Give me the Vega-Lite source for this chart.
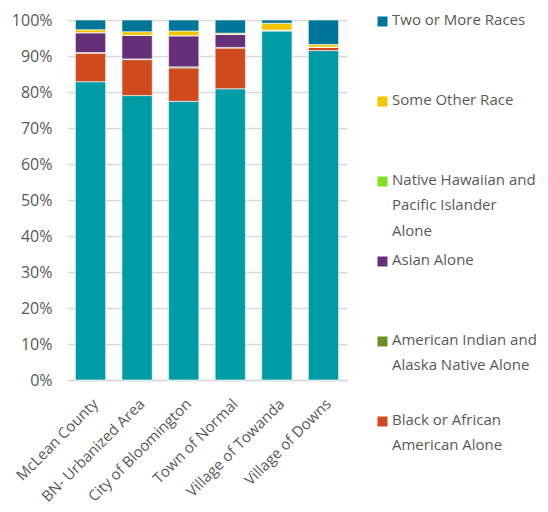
{
  "$schema": "https://vega.github.io/schema/vega-lite/v6.json",
  "autosize": {"type": "none"},
  "padding": {"left": 67, "top": 20, "right": 201, "bottom": 132},
  "width": 280,
  "height": 360,
  "background": "white",
  "config": {
    "view": {"stroke": null},
    "font": "Open Sans",
    "axis": {"labelFont": "Open Sans", "labelColor": "#595959", "labelFontSize": 15},
    "legend": {"labelFont": "Open Sans", "labelColor": "#595959", "labelFontSize": 15}
  },
  "data": {
    "values": [
      {"area": "McLean County", "race": "White Alone", "k": 1, "pct": 82.9},
      {"area": "McLean County", "race": "Black or African American Alone", "k": 2, "pct": 7.9},
      {"area": "McLean County", "race": "American Indian and Alaska Native Alone", "k": 3, "pct": 0.2},
      {"area": "McLean County", "race": "Asian Alone", "k": 4, "pct": 5.5},
      {"area": "McLean County", "race": "Native Hawaiian and Pacific Islander Alone", "k": 5, "pct": 0.05},
      {"area": "McLean County", "race": "Some Other Race", "k": 6, "pct": 0.8},
      {"area": "McLean County", "race": "Two or More Races", "k": 7, "pct": 2.7},
      {"area": "BN- Urbanized Area", "race": "White Alone", "k": 1, "pct": 79.0},
      {"area": "BN- Urbanized Area", "race": "Black or African American Alone", "k": 2, "pct": 10.0},
      {"area": "BN- Urbanized Area", "race": "American Indian and Alaska Native Alone", "k": 3, "pct": 0.2},
      {"area": "BN- Urbanized Area", "race": "Asian Alone", "k": 4, "pct": 6.5},
      {"area": "BN- Urbanized Area", "race": "Native Hawaiian and Pacific Islander Alone", "k": 5, "pct": 0.05},
      {"area": "BN- Urbanized Area", "race": "Some Other Race", "k": 6, "pct": 1.0},
      {"area": "BN- Urbanized Area", "race": "Two or More Races", "k": 7, "pct": 3.25},
      {"area": "City of Bloomington", "race": "White Alone", "k": 1, "pct": 77.4},
      {"area": "City of Bloomington", "race": "Black or African American Alone", "k": 2, "pct": 9.3},
      {"area": "City of Bloomington", "race": "American Indian and Alaska Native Alone", "k": 3, "pct": 0.3},
      {"area": "City of Bloomington", "race": "Asian Alone", "k": 4, "pct": 8.6},
      {"area": "City of Bloomington", "race": "Native Hawaiian and Pacific Islander Alone", "k": 5, "pct": 0.05},
      {"area": "City of Bloomington", "race": "Some Other Race", "k": 6, "pct": 1.3},
      {"area": "City of Bloomington", "race": "Two or More Races", "k": 7, "pct": 3.05},
      {"area": "Town of Normal", "race": "White Alone", "k": 1, "pct": 80.9},
      {"area": "Town of Normal", "race": "Black or African American Alone", "k": 2, "pct": 11.3},
      {"area": "Town of Normal", "race": "American Indian and Alaska Native Alone", "k": 3, "pct": 0.2},
      {"area": "Town of Normal", "race": "Asian Alone", "k": 4, "pct": 3.6},
      {"area": "Town of Normal", "race": "Native Hawaiian and Pacific Islander Alone", "k": 5, "pct": 0.05},
      {"area": "Town of Normal", "race": "Some Other Race", "k": 6, "pct": 0.3},
      {"area": "Town of Normal", "race": "Two or More Races", "k": 7, "pct": 3.65},
      {"area": "Village of Towanda", "race": "White Alone", "k": 1, "pct": 97.0},
      {"area": "Village of Towanda", "race": "Black or African American Alone", "k": 2, "pct": 0.0},
      {"area": "Village of Towanda", "race": "American Indian and Alaska Native Alone", "k": 3, "pct": 0.2},
      {"area": "Village of Towanda", "race": "Asian Alone", "k": 4, "pct": 0.0},
      {"area": "Village of Towanda", "race": "Native Hawaiian and Pacific Islander Alone", "k": 5, "pct": 0.0},
      {"area": "Village of Towanda", "race": "Some Other Race", "k": 6, "pct": 1.9},
      {"area": "Village of Towanda", "race": "Two or More Races", "k": 7, "pct": 0.9},
      {"area": "Village of Downs", "race": "White Alone", "k": 1, "pct": 91.5},
      {"area": "Village of Downs", "race": "Black or African American Alone", "k": 2, "pct": 1.0},
      {"area": "Village of Downs", "race": "American Indian and Alaska Native Alone", "k": 3, "pct": 0.0},
      {"area": "Village of Downs", "race": "Asian Alone", "k": 4, "pct": 0.0},
      {"area": "Village of Downs", "race": "Native Hawaiian and Pacific Islander Alone", "k": 5, "pct": 0.0},
      {"area": "Village of Downs", "race": "Some Other Race", "k": 6, "pct": 0.7},
      {"area": "Village of Downs", "race": "Two or More Races", "k": 7, "pct": 6.8}
    ]
  },
  "mark": {"type": "bar", "stroke": "white", "strokeWidth": 0.6},
  "encoding": {
    "x": {
      "field": "area",
      "type": "nominal",
      "sort": null,
      "title": null,
      "scale": {"paddingInner": 0.35, "paddingOuter": 0.18},
      "axis": {"labelAngle": -45, "ticks": false, "domainColor": "#d9d9d9", "domainWidth": 1.5, "labelPadding": 16}
    },
    "y": {
      "field": "pct",
      "type": "quantitative",
      "stack": "normalize",
      "title": null,
      "axis": {"format": ".0%", "values": [0,0.1,0.2,0.3,0.4,0.5,0.6,0.7,0.8,0.9,1], "labelOverlap": false, "labelFontSize": 16, "domain": false, "ticks": false, "gridColor": "#d9d9d9", "gridWidth": 1.5, "labelPadding": 15}
    },
    "order": {"field": "k", "type": "quantitative"},
    "color": {
      "field": "race",
      "type": "nominal",
      "scale": {
        "domain": ["White Alone", "Black or African American Alone", "American Indian and Alaska Native Alone", "Asian Alone", "Native Hawaiian and Pacific Islander Alone", "Some Other Race", "Two or More Races"],
        "range": ["#009ca6", "#d04a1f", "#6b8e23", "#652f7a", "#7fe01f", "#f2c500", "#00759a"]
      },
      "legend": {
        "title": null,
        "orient": "none",
        "legendX": 308,
        "legendY": -6,
        "values": ["Two or More Races", "Some Other Race", "Native Hawaiian and Pacific Islander Alone", "Asian Alone", "American Indian and Alaska Native Alone", "Black or African American Alone"],
        "symbolType": "square",
        "symbolSize": 100,
        "symbolStrokeWidth": 0,
        "labelBaseline": "top",
        "labelOffset": 2,
        "labelLimit": 200,
        "rowPadding": 13,
        "labelExpr": "datum.value == 'Native Hawaiian and Pacific Islander Alone' ? ['Native Hawaiian and','Pacific Islander','Alone'] : datum.value == 'American Indian and Alaska Native Alone' ? ['American Indian and','Alaska Native Alone',' '] : datum.value == 'Black or African American Alone' ? ['Black or African','American Alone',' '] : [datum.value,' ',' ']",
        "encoding": {"labels": {"dy": {"value": -9}, "lineHeight": {"value": 25.5}}}
      }
    }
  }
}
